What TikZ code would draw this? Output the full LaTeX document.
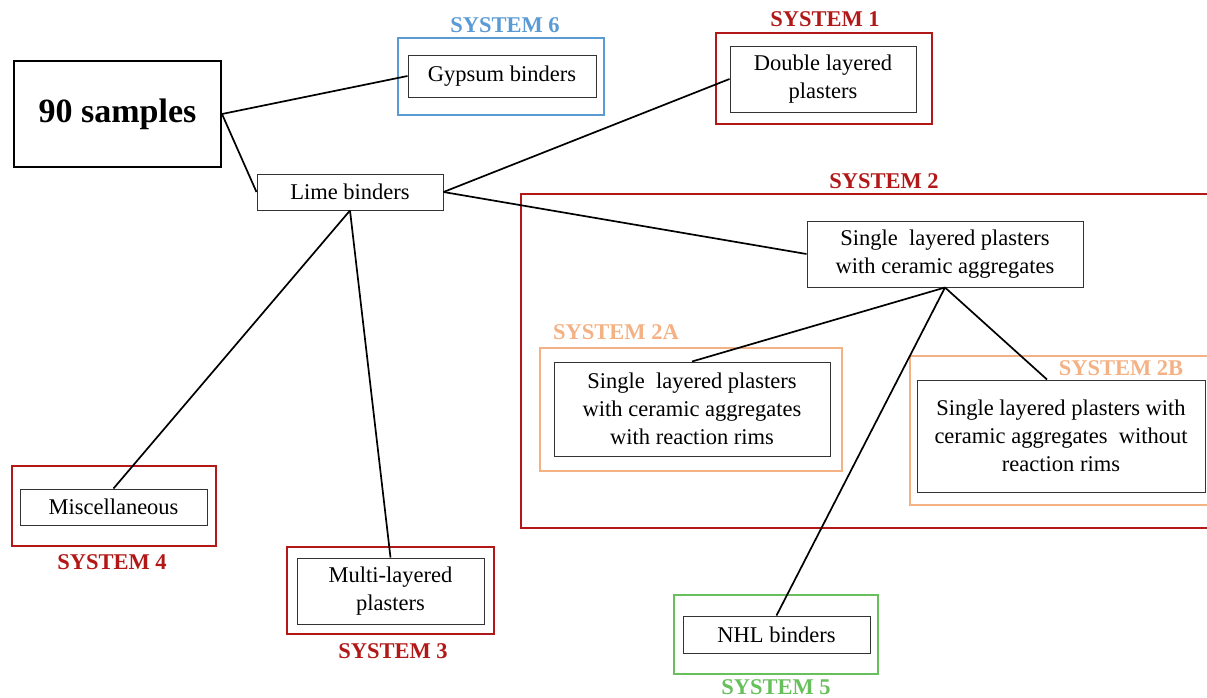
\documentclass[tikz,border=0pt]{standalone}
\usepackage{fontspec}
\setmainfont{Liberation Serif}
\definecolor{sysred}{RGB}{178,24,24}
\definecolor{sysblue}{RGB}{91,155,213}
\definecolor{syspeach}{RGB}{244,177,131}
\definecolor{sysgreen}{RGB}{104,192,92}
\tikzset{
  leaf/.style={draw=black!80, line width=1pt, fill=white, align=center, inner sep=0pt,
    font=\fontsize{22.5}{28}\selectfont},
  frame/.style={line width=2pt},
  syslabel/.style={font=\fontsize{22.5}{26}\selectfont\bfseries, inner sep=0pt},
  link/.style={line width=1.7pt, black}
}
\begin{document}
\begin{tikzpicture}[x=1pt,y=-1pt]
\useasboundingbox (0,0) rectangle (1207,697);
% outer system frames
\draw[frame, sysblue] (398,38) rectangle (604,115);
\draw[frame, sysred] (716,33) rectangle (932,124);
\draw[frame, sysred] (1210,194) -- (521,194) -- (521,528) -- (1210,528);
\draw[frame, syspeach] (540,348) rectangle (842,471);
\draw[frame, syspeach] (1210,356) -- (910,356) -- (910,505) -- (1210,505);
\draw[frame, sysred] (12,466) rectangle (216,546);
\draw[frame, sysred] (287,547) rectangle (494,634);
\draw[frame, sysgreen] (674,595) rectangle (878,674);
% labels
\node[syslabel, text=sysblue] (l6) at (505,25) {SYSTEM 6};
\node[syslabel, text=sysred] (l1) at (825,19) {SYSTEM 1};
\node[syslabel, text=sysred] (l2) at (884,181) {SYSTEM 2};
\node[syslabel, text=syspeach] (l2a) at (616,332) {SYSTEM 2A};
\node[syslabel, text=syspeach] (l2b) at (1121,368) {SYSTEM 2B};
\node[syslabel, text=sysred] (l4) at (112,562) {SYSTEM 4};
\node[syslabel, text=sysred] (l3) at (393,651) {SYSTEM 3};
\node[syslabel, text=sysgreen] (l5) at (776,687) {SYSTEM 5};
% nodes
\node[leaf, draw=black, line width=2pt, minimum width=207pt, minimum height=106pt,
  font=\fontsize{34}{40}\selectfont\bfseries] (s90) at (117.5,114) {90 samples};
\node[leaf, minimum width=188pt, minimum height=42pt] (gyp) at (502,76) {Gypsum binders};
\node[leaf, minimum width=186pt, minimum height=36pt] (lime) at (350,192) {Lime binders};
\node[leaf, minimum width=186pt, minimum height=66pt] (dbl) at (823,79) {Double layered\\plasters};
\node[leaf, minimum width=276pt, minimum height=66pt] (single) at (945,254) {Single\ \ layered plasters\\with ceramic aggregates};
\node[leaf, minimum width=276pt, minimum height=94pt] (s2a) at (692,409) {Single\ \ layered plasters\\with ceramic aggregates\\with reaction rims};
\node[leaf, minimum width=288pt, minimum height=112pt] (s2b) at (1061,436) {Single layered plasters with\\ceramic aggregates\ \ without\\reaction rims};
\node[leaf, minimum width=187pt, minimum height=36pt] (misc) at (113.5,507) {Miscellaneous};
\node[leaf, minimum width=187pt, minimum height=66pt] (multi) at (390.5,591) {Multi-layered\\plasters};
\node[leaf, minimum width=187pt, minimum height=37pt] (nhl) at (776.5,634.5) {NHL binders};
% connectors
\draw[link] (s90.east) -- (gyp.west);
\draw[link] (s90.east) -- (lime.west);
\draw[link] (lime.east) -- (dbl.west);
\draw[link] (lime.east) -- (single.west);
\draw[link] (lime.south) -- (misc.north);
\draw[link] (lime.south) -- (multi.north);
\draw[link] (single.south) -- (s2a.north);
\draw[link] (single.south) -- ([xshift=-14pt]s2b.north);
\draw[link] (single.south) -- (nhl.north);
\end{tikzpicture}
\end{document}
